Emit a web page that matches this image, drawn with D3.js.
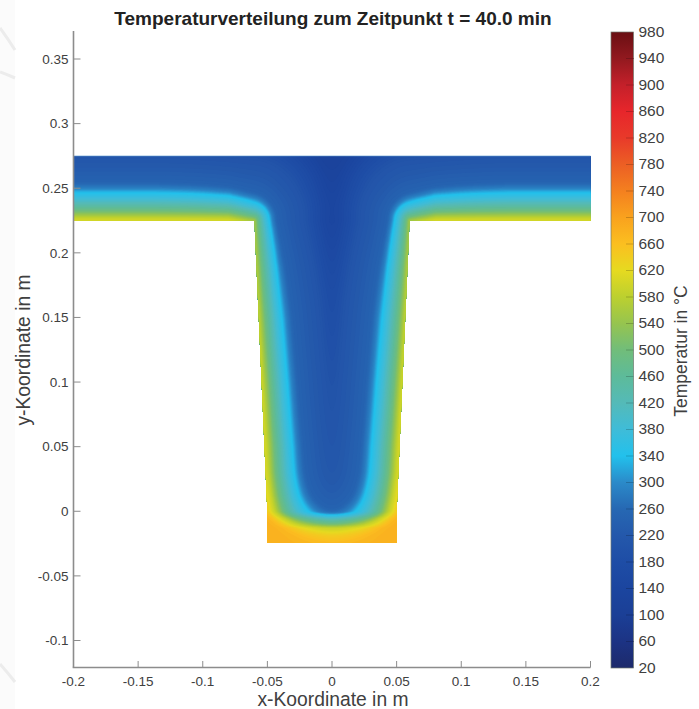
<!DOCTYPE html>
<html><head><meta charset="utf-8">
<script src="https://cdn.jsdelivr.net/npm/d3@7"></script>
<style>html,body{margin:0;padding:0;background:#fff;overflow:hidden}svg{display:block}</style>
</head><body><div id="chart"></div>
<script>
// ---- data ----
const titleText = "Temperaturverteilung zum Zeitpunkt t = 40.0 min";
const xLabelText = "x-Koordinate in m";
const yLabelText = "y-Koordinate in m";
const colorbarLabelText = "Temperatur in °C";
const xTicks = [-0.2,-0.15,-0.1,-0.05,0,0.05,0.1,0.15,0.2];
const yTicks = [-0.1,-0.05,0,0.05,0.1,0.15,0.2,0.25,0.3,0.35];
const cbTicks = [20,60,100,140,180,220,260,300,340,380,420,460,500,540,580,620,660,700,740,780,820,860,900,940,980];
// colormap anchors
const cmapTemps  = [20,60,100,140,180,220,260,300,340,380,420,460,500,540,580,620,660,700,740,780,820,860,900,940,980];
const cmapColors = ["#1d2a6b","#1c3384","#1b3f96","#1b459f","#1e4da6","#2458ab","#2668b3","#2b8ac9","#22c1ec","#3fbcd8","#54bab8","#5dbb9a","#71bd7a","#96c44f","#bcd02f","#e6da20","#fbbf20","#f9a21e","#f4801f","#ec5f24","#e83a2a","#e7262b","#c4202a","#92191f","#6a0f13"];
// cross-section outline (m)
const outlineX = [-0.2,0.2,0.2,0.06,0.05,0.05,-0.05,-0.05,-0.06,-0.2];
const outlineY = [0.275,0.275,0.225,0.225,0,-0.0245,-0.0245,0,0.225,0.225];
// heated surface (flange underside and web flanks)
const surfaceX = [-0.2,-0.06,-0.05,-0.05];
const surfaceY = [0.225,0.225,0,-0.0245];
// temperature against depth below the heated surface (read along flange and web)
const depths = [-0.01,-0.006,-0.003,0,0.002,0.0077,0.0155,0.0217,0.0255,0.03,0.04,0.05,0.06,0.07,0.08,0.1];
const temps  = [680,670,645,610,590,495,400,340,285,250,230,212,175,135,115,100];
// effective depth near the bottom face
const bottomDepth = [0,0.0062,0.0093,0.0116,0.0139,0.01625,0.0193,0.0217,0.024,0.05,0.3];
const bottomEff   = [-0.005,-0.0015,0.001,0.003,0.008,0.012,0.018,0.026,0.034,0.065,0.31];
// extra heating of the flanks near the foot, by height
const flankY   = [-0.0245,-0.01,0,0.012,0.03];
const flankOff = [0.009,0.006,0.002,0.001,0];
// isotherms stay closer to the re-entrant corner: extra depth against distance from it
const cornerR     = [0,0.007,0.014,0.022,0.035,0.05,0.08];
const cornerExtra = [0,0.003,0.005,0.006,0.006,0.004,0];
// the web's hot band narrows towards the flange: extra depth by height
const webGainY = [0.05,0.1,0.15,0.19,0.225,0.25,0.275];
const webGain  = [0,0.0015,0.0035,0.0055,0.008,0.005,0];
// faint background swooshes at the left page edge
const swooshStartY = [28,72,664];
const swooshEndY   = [50,78,682];

const W=699,H=709;
const x=d3.scaleLinear().domain([-0.2,0.2]).range([73.5,590.5]);
const y=d3.scaleLinear().domain([0.35,-0.1]).range([59,640.5]);
const color=d3.scaleLinear().domain(cmapTemps).range(cmapColors).interpolate(d3.interpolateRgb).clamp(true);
const P=d3.scaleLinear().domain(depths).range(temps).clamp(true);
const B=d3.scaleLinear().domain(bottomDepth).range(bottomEff).clamp(true);
const F=d3.scaleLinear().domain(flankY).range(flankOff).clamp(true);
const C=d3.scaleLinear().domain(cornerR).range(cornerExtra).clamp(true);
const G=d3.scaleLinear().domain(webGainY).range(webGain).clamp(true);

const svg=d3.select("#chart").append("svg").attr("width",W).attr("height",H)
  .style("font-family","'Liberation Sans',Arial,sans-serif");
const defs=svg.append("defs");

// page background remnants
svg.append("rect").attr("x",0).attr("y",0).attr("width",15).attr("height",H).attr("fill","#fbfbfb");
svg.selectAll("path.sw").data(swooshStartY).join("path").attr("class","sw")
  .attr("d",(d,i)=>`M0,${d}Q8,${(d+swooshEndY[i])/2} 15,${swooshEndY[i]}`)
  .attr("fill","none").attr("stroke","#ececec").attr("stroke-width",3);

// temperature field on a grid covering the section
const gx0=-0.2,gy0=-0.026,step=0.001,nx=401,ny=303;
function segDist(px,py,ax,ay,bx,by){
  const dx=bx-ax,dy=by-ay,t=Math.max(0,Math.min(1,((px-ax)*dx+(py-ay)*dy)/(dx*dx+dy*dy)));
  return Math.hypot(px-ax-t*dx,py-ay-t*dy);
}
const softMin=(a,b,k)=>{const m=Math.min(a,b);return m-Math.log(Math.exp(-k*(a-m))+Math.exp(-k*(b-m)))/k;};
const cx=surfaceX[1],cy=surfaceY[1];
function sideDepth(ax,py){
  let d=1e9;
  for(let s=0;s<surfaceX.length-1;s++){
    d=Math.min(d,segDist(ax,py,surfaceX[s],surfaceY[s],surfaceX[s+1],surfaceY[s+1]));
  }
  const ux=ax-cx,uy=py-cy,r=Math.hypot(ux,uy)||1e-6;
  const w=Math.max(0,Math.min(1,((ux+uy)/(r*Math.SQRT2)+0.707)/1.707));
  const gate=Math.max(0,Math.min(1,(ux+0.02)/0.04));
  return d+C(r)*w+G(py)*gate-F(py);
}
const field=new Float64Array(nx*ny);
for(let j=0;j<ny;j++)for(let i=0;i<nx;i++){
  const px=gx0+i*step,py=gy0+j*step;
  const dSide=softMin(sideDepth(px,py),sideDepth(-px,py),200);
  const dB=B(Math.max(py-surfaceY[3],0));
  field[j*nx+i]=P(softMin(dSide,dB,65));
}
const thresholds=d3.range(60,730,6);
const contours=d3.contours().size([nx,ny]).smooth(true).thresholds(thresholds)(field);
const gridProj=d3.geoTransform({point(a,b){
  this.stream.point(x(gx0+(a-0.5)*step),y(gy0+(b-0.5)*step));
}});
const gridPath=d3.geoPath(gridProj);

const outline=d3.line().x(i=>x(outlineX[i])).y(i=>y(outlineY[i])).curve(d3.curveLinearClosed)(d3.range(outlineX.length));
defs.append("clipPath").attr("id","section").append("path").attr("d",outline);

const heat=svg.append("g").attr("clip-path","url(#section)");
heat.append("path").attr("d",outline).attr("fill",color(60));
heat.selectAll("path.band").data(contours).join("path").attr("class","band")
  .attr("d",gridPath).attr("fill",d=>color(d.value));
// lighter thin top edge
svg.append("line").attr("x1",x(-0.2)).attr("x2",x(0.2)).attr("y1",y(0.275)).attr("y2",y(0.275))
  .attr("stroke","#6fa6d6").attr("stroke-width",1).attr("opacity",0.6);

// axes
const ink="#404040",spine="#8c8c8c";
const ax=svg.append("g");
ax.append("line").attr("x1",x(-0.2)).attr("x2",x(-0.2)).attr("y1",31).attr("y2",667.5).attr("stroke",spine).attr("stroke-width",1.6);
ax.append("line").attr("x1",x(-0.2)-0.8).attr("x2",x(0.2)).attr("y1",667.5).attr("y2",667.5).attr("stroke",spine).attr("stroke-width",1.6);
ax.selectAll("line.xt").data(xTicks).join("line").attr("class","xt")
  .attr("x1",d=>x(d)).attr("x2",d=>x(d)).attr("y1",667.5).attr("y2",661).attr("stroke",spine);
ax.selectAll("line.yt").data(yTicks).join("line").attr("class","yt")
  .attr("x1",x(-0.2)).attr("x2",x(-0.2)+7).attr("y1",d=>y(d)).attr("y2",d=>y(d)).attr("stroke",spine);
ax.selectAll("text.xl").data(xTicks).join("text").attr("class","xl")
  .attr("x",d=>x(d)).attr("y",686).attr("text-anchor","middle").attr("font-size",13.5).attr("fill",ink).text(d=>d);
ax.selectAll("text.yl").data(yTicks).join("text").attr("class","yl")
  .attr("x",68.5).attr("y",d=>y(d)+4.7).attr("text-anchor","end").attr("font-size",13.5).attr("fill",ink).text(d=>d);

svg.append("text").attr("x",333).attr("y",25).attr("text-anchor","middle").attr("font-size",19).attr("font-weight","bold").attr("fill","#222").text(titleText);
svg.append("text").attr("x",333).attr("y",706).attr("text-anchor","middle").attr("font-size",19.3).attr("fill",ink).text(xLabelText);
svg.append("text").attr("transform","translate(30,350) rotate(-90)").attr("text-anchor","middle").attr("font-size",19.3).attr("fill",ink).text(yLabelText);

// colorbar
const cb=d3.scaleLinear().domain([20,980]).range([668,32]);
const grad=defs.append("linearGradient").attr("id","cbar").attr("x1",0).attr("x2",0).attr("y1",1).attr("y2",0);
grad.selectAll("stop").data(cmapTemps).join("stop")
  .attr("offset",d=>(d-20)/960).attr("stop-color",(d,i)=>cmapColors[i]);
svg.append("rect").attr("x",611).attr("y",cb(980)).attr("width",22.5).attr("height",cb(20)-cb(980))
  .attr("fill","url(#cbar)").attr("stroke","#6f7a70").attr("stroke-width",0.7);
svg.selectAll("line.ct").data(cbTicks.slice(1,-1)).join("line").attr("class","ct")
  .attr("x1",626).attr("x2",633.5).attr("y1",d=>cb(d)).attr("y2",d=>cb(d))
  .attr("stroke",d=>d3.color(color(d)).darker(0.6)).attr("stroke-width",1);
svg.selectAll("text.cl").data(cbTicks).join("text").attr("class","cl")
  .attr("x",638.5).attr("y",d=>cb(d)+4.5).attr("font-size",15.5).attr("fill",ink).text(d=>d);
svg.append("text").attr("transform","translate(687,351) rotate(-90)").attr("text-anchor","middle").attr("font-size",17.5).attr("fill",ink).text(colorbarLabelText);
</script></body></html>
